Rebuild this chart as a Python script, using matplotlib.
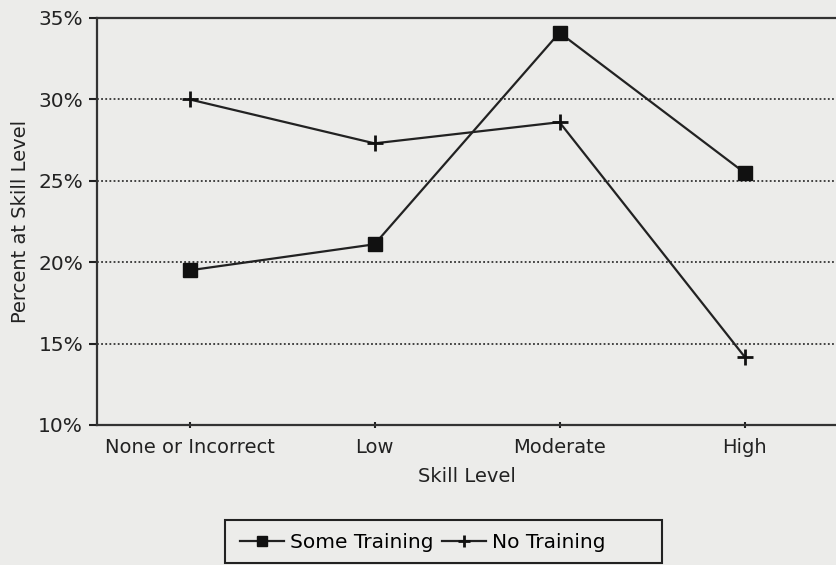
import matplotlib.pyplot as plt
from matplotlib.patches import Rectangle

categories = ['None or Incorrect', 'Low', 'Moderate', 'High']
some_training = [19.5, 21.1, 34.1, 25.5]
no_training = [30.0, 27.3, 28.6, 14.2]
y_ticks = [10, 15, 20, 25, 30, 35]

bg = '#ececea'
fig = plt.figure(figsize=(8.36, 5.65), dpi=100, facecolor=bg)
ax = fig.add_axes([97 / 836, 1 - 425 / 565, 740 / 836, 407 / 565], facecolor=bg)

x = list(range(len(categories)))
ax.plot(x, some_training, color='#222222', lw=1.6, marker='s', ms=10,
        mfc='#111111', mec='#111111', label='Some Training')
ax.plot(x, no_training, color='#222222', lw=1.6, marker='+', ms=11,
        mew=2, mec='#111111', label='No Training')

for v in y_ticks[1:-1]:
    ax.axhline(v, color='#333333', lw=1.3, ls=(0, (1, 1.3)), zorder=0)

ax.set_xlim(-0.5, 3.5)
ax.set_ylim(10, 35)
ax.set_xticks(x)
ax.set_xticklabels(categories, fontsize=14)
ax.set_yticks(y_ticks)
ax.set_yticklabels([f'{v}%' for v in y_ticks], fontsize=14.5)
ax.tick_params(axis='x', length=5, width=1.5, direction='inout', pad=7, colors='#222222')
ax.tick_params(axis='y', length=6, width=1.5, direction='out', pad=4, colors='#222222')

for s in ['left', 'bottom', 'top']:
    ax.spines[s].set_linewidth(1.6)
    ax.spines[s].set_color('#333333')
ax.spines['right'].set_visible(False)

ax.set_xlabel('Skill Level', fontsize=14, labelpad=7, color='#222222')
ax.set_ylabel('Percent at Skill Level', fontsize=14, labelpad=6, color='#222222')

# legend box, as in the original
fig.patches.append(Rectangle((225 / 836, 2 / 565), 437 / 836, 43 / 565,
                             transform=fig.transFigure, fill=False,
                             edgecolor='#222222', lw=1.5))
leg = fig.legend(loc='center left', bbox_to_anchor=(230 / 836, 1 - 543 / 565), ncol=2,
                 fontsize=14.5, frameon=False, handlelength=2.2, markerscale=0.75,
                 handletextpad=0.3, columnspacing=0.4, borderpad=0)

fig.savefig('out.png', dpi=100, facecolor=bg)
